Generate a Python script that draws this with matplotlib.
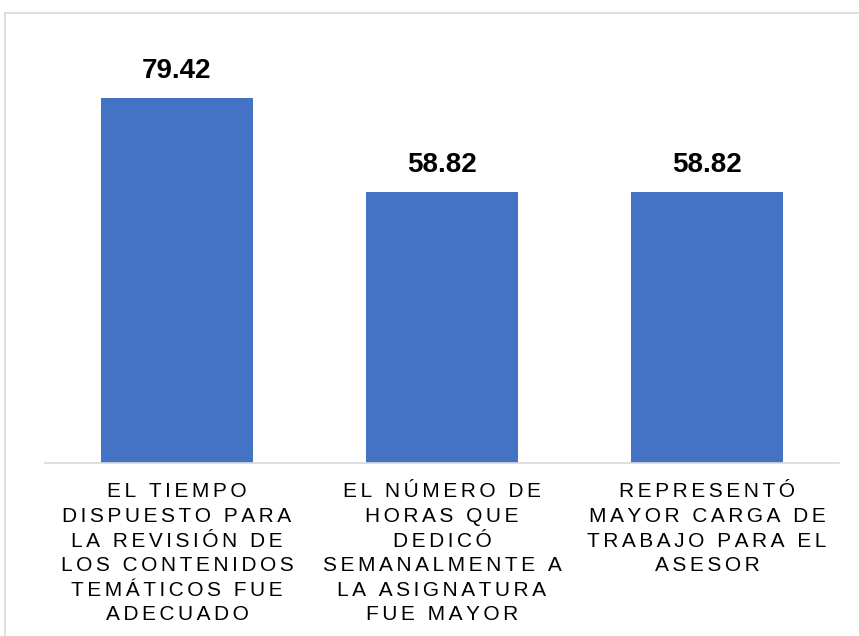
import matplotlib
matplotlib.use("Agg")
import matplotlib.pyplot as plt
from matplotlib.lines import Line2D

categories = [
    "EL TIEMPO\nDISPUESTO PARA\nLA REVISIÓN DE\nLOS CONTENIDOS\nTEMÁTICOS FUE\nADECUADO",
    "EL NÚMERO DE\nHORAS QUE\nDEDICÓ\nSEMANALMENTE A\nLA ASIGNATURA\nFUE MAYOR",
    "REPRESENTÓ\nMAYOR CARGA DE\nTRABAJO PARA EL\nASESOR",
]
values = [79.42, 58.82, 58.82]
value_labels = ["79.42", "58.82", "58.82"]

FONT = ["Liberation Sans", "DejaVu Sans"]
W, H = 859, 636


def spaced(label):
    # emulate the wide letter spacing of the original labels
    return "\n".join("\u200a\u200a".join(line) for line in label.split("\n"))


fig = plt.figure(figsize=(W / 100, H / 100), dpi=100)

# outer chart-area border (only left and top are visible in the crop)
fig.add_artist(Line2D([5 / W, 5 / W], [0, 1 - 13 / H], transform=fig.transFigure,
                      color="#D9D9D9", lw=1.2))
fig.add_artist(Line2D([5 / W, 1], [1 - 13 / H, 1 - 13 / H], transform=fig.transFigure,
                      color="#D9D9D9", lw=1.2))

ax = fig.add_axes([44.5 / W, (H - 463) / H, 795 / W, 414 / H])
x = list(range(len(values)))
ax.bar(x, values, width=0.575, color="#4472C4", zorder=2)
ax.set_xlim(-0.5, 2.5)
ax.set_ylim(0, 90)
for s in ["top", "right", "left"]:
    ax.spines[s].set_visible(False)
ax.spines["bottom"].set_color("#D9D9D9")
ax.spines["bottom"].set_linewidth(1.2)
ax.spines["bottom"].set_zorder(3)
ax.set_yticks([])
ax.set_xticks(x)
ax.set_xticklabels([spaced(c) for c in categories], fontsize=15, family=FONT,
                   linespacing=1.37, color="#000000")
ax.tick_params(axis="x", length=0, pad=14)

for xi, v, lab in zip(x, values, value_labels):
    ax.annotate(lab, (xi, v), xytext=(0, 14.4), textcoords="offset points",
                ha="center", va="baseline", fontsize=20, fontweight="bold",
                family=FONT, color="#000000")

fig.savefig("out.png", dpi=100)
